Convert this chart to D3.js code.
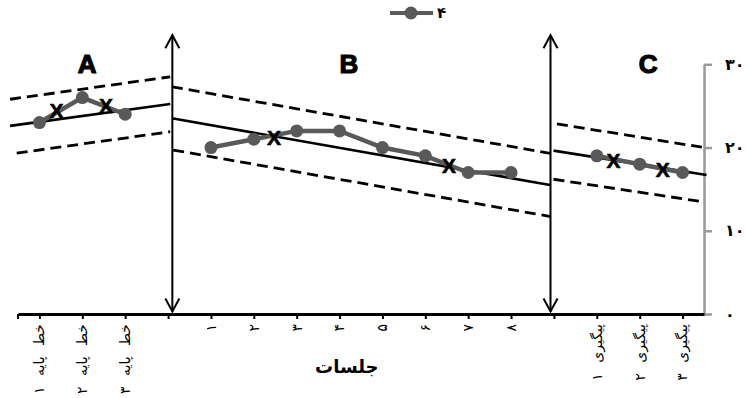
<!DOCTYPE html>
<html><head><meta charset="utf-8">
<script src="https://cdn.jsdelivr.net/npm/d3@7"></script>
<style>body{margin:0;background:#fff;overflow:hidden}</style>
</head><body>
<svg id="chart" width="748" height="398"></svg>
<script>
// ---- data ----
const categories = ["خط پایه ۱","خط پایه ۲","خط پایه ۳","","۱","۲","۳","۴","۵","۶","۷","۸","","پیگیری ۱","پیگیری ۲","پیگیری ۳"];
const phaseAIndex = [0,1,2];
const phaseAValues = [23,26,24];
const phaseBIndex = [4,5,6,7,8,9,10,11];
const phaseBValues = [20,21,22,22,20,19,17,17];
const phaseCIndex = [13,14,15];
const phaseCValues = [19,18,17];
const yTicks = [0,10,20,30];
const yTickLabels = ["۰","۱۰","۲۰","۳۰"];
const seriesName = "۴";
const xTitle = "جلسات";
const phaseNames = ["A","B","C"];
const phaseNamePos = [1.11,7.22,14.2];
const phaseBoundaries = [3.1,11.92];
// trend lines [x0,v0,x1,v1] in category index / value units
const trendSolid = [[-0.686,22.6,3.05,25.24],[3.09,23.52,11.91,15.5],[11.99,19.63,15.56,16.71]];
const trendUpper = [[-0.686,25.8,3.05,28.5],[3.09,27.3,11.91,19.3],[12.07,22.84,15.45,20.04]];
const trendLower = [[-0.53,19.33,3.05,21.9],[3.12,19.7,11.93,11.7],[11.99,16.19,15.45,13.5]];
const splitMarks = [[0.40,24.5],[1.55,25.1],[5.47,21.2],[9.55,17.8],[13.39,18.5],[14.54,17.4]];

// ---- scales ----
const svg = d3.select("#chart");
const x = d3.scaleLinear().domain([-0.5, 15.5]).range([18, 704]);
const y = d3.scaleLinear().domain([0, 30]).range([314, 64.3]);
const gray = "#595959";
const font = "'DejaVu Sans', sans-serif";

// y axis (right, gray)
const yAx = svg.append("g").attr("transform", `translate(${x(15.5)},0)`)
  .call(d3.axisRight(y).tickValues(yTicks).tickSize(8).tickSizeOuter(0).tickFormat((d,i)=>yTickLabels[i]));
yAx.select(".domain").attr("stroke", "#999").attr("stroke-width", 2.5);
yAx.selectAll(".tick line").attr("stroke", "#999").attr("stroke-width", 2.5);
yAx.selectAll(".tick text").attr("x", 21).attr("text-anchor","start").attr("font-family", font)
  .attr("font-size", 16).attr("font-weight","bold").attr("fill", "#000");

// x axis
const xAx = svg.append("g").attr("transform", `translate(0,${y(0)})`)
  .call(d3.axisBottom(x).tickValues(d3.range(categories.length)).tickSize(5).tickSizeOuter(0).tickFormat(""));
xAx.select(".domain").attr("stroke", "#000").attr("stroke-width", 3);
xAx.selectAll(".tick line").attr("stroke", "#000").attr("stroke-width", 2);
svg.append("line").attr("x1", x(-0.5)).attr("x2", x(-0.5)).attr("y1", y(0)).attr("y2", y(0)+5)
  .attr("stroke","#000").attr("stroke-width",2);

// x tick labels rotated
svg.append("g").selectAll("text").data(categories.map((c,i)=>({c,i})).filter(d=>d.c!==""))
  .join("text")
  .attr("transform", d => `translate(${x(d.i)},${y(0)+10}) rotate(-90)`)
  .attr("text-anchor","end").attr("dy","0.35em")
  .attr("font-family", font).attr("font-size", 14).attr("word-spacing", 6).attr("fill","#000")
  .text(d => d.c);

// x title
svg.append("text").attr("x", x(7.17)).attr("y", y(0)+59).attr("text-anchor","middle")
  .attr("font-family", font).attr("font-size", 18).attr("font-weight","bold").text(xTitle);

// trend lines
const drawLines = (arr, dash, w) => svg.append("g").selectAll("line").data(arr).join("line")
  .attr("x1", d=>x(d[0])).attr("y1", d=>y(d[1])).attr("x2", d=>x(d[2])).attr("y2", d=>y(d[3]))
  .attr("stroke","#000").attr("stroke-width", w).attr("stroke-dasharray", dash);
drawLines(trendSolid, null, 2.6);
drawLines(trendUpper, "11,6", 2.8);
drawLines(trendLower, "11,6", 2.8);

// phase boundary arrows
const arrows = svg.append("g");
phaseBoundaries.forEach(b => {
  const ax = x(b), top = y(33.5), bot = y(0.3);
  arrows.append("line").attr("x1",ax).attr("x2",ax).attr("y1",top).attr("y2",bot).attr("stroke","#000").attr("stroke-width",2);
  arrows.append("path").attr("d", `M${ax-7},${top+13}L${ax},${top}L${ax+7},${top+13}`).attr("fill","none").attr("stroke","#000").attr("stroke-width",2);
  arrows.append("path").attr("d", `M${ax-7},${bot-13}L${ax},${bot}L${ax+7},${bot-13}`).attr("fill","none").attr("stroke","#000").attr("stroke-width",2);
});

// phase names
svg.append("g").selectAll("text").data(phaseNames).join("text")
  .attr("x",(d,i)=>x(phaseNamePos[i])).attr("y", y(28.97)).attr("text-anchor","middle")
  .attr("font-family","'Liberation Sans', Arial, sans-serif").attr("font-size",26).attr("font-weight","bold")
  .attr("stroke","#000").attr("stroke-width",1.2).text(d=>d);

// data series
const line = d3.line().x(d=>x(d[0])).y(d=>y(d[1]));
const phases = [
  phaseAIndex.map((i,k)=>[i,phaseAValues[k]]),
  phaseBIndex.map((i,k)=>[i,phaseBValues[k]]),
  phaseCIndex.map((i,k)=>[i,phaseCValues[k]])
];
phases.forEach(p => {
  svg.append("path").datum(p).attr("d", line).attr("fill","none").attr("stroke",gray).attr("stroke-width",4.5);
  svg.append("g").selectAll("circle").data(p).join("circle")
    .attr("cx",d=>x(d[0])).attr("cy",d=>y(d[1])).attr("r",6.5).attr("fill",gray);
});

// split-middle X marks
svg.append("g").selectAll("text").data(splitMarks).join("text")
  .attr("x",d=>x(d[0])).attr("y",d=>y(d[1])).attr("dy","0.36em").attr("text-anchor","middle")
  .attr("font-family","'Liberation Sans', Arial, sans-serif").attr("font-size",21).attr("font-weight","bold")
  .attr("stroke","#000").attr("stroke-width",0.6).text("X");

// legend
const lg = svg.append("g");
lg.append("line").attr("x1",390).attr("x2",433).attr("y1",13).attr("y2",13).attr("stroke",gray).attr("stroke-width",4);
lg.append("circle").attr("cx",411).attr("cy",13).attr("r",6.5).attr("fill",gray);
lg.append("text").attr("x",437).attr("y",13).attr("dy","0.36em").attr("font-family",font).attr("font-size",15).attr("font-weight","bold").text(seriesName);
</script>
</body></html>
